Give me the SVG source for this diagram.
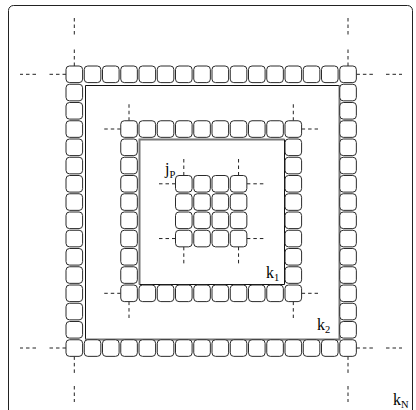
<svg xmlns="http://www.w3.org/2000/svg" xmlns:xlink="http://www.w3.org/1999/xlink" width="416" height="410" viewBox="0 0 416 410">
<style>
.frame{fill:#fff;stroke:#222;stroke-width:1}
.sq{fill:#fff;stroke:#2a2a2a;stroke-width:1}
.thin{stroke:#111;stroke-width:1;fill:none}
.thick{stroke:#777;stroke-width:2;fill:none}
.dash{stroke:#222;stroke-width:1;stroke-dasharray:3.5 3;fill:none}
.lbl{font-family:"Liberation Serif","Times New Roman",serif;font-size:16px;fill:#000}
.sub{font-size:10.5px}
</style>
<defs>
<rect id="sq" class="sq" width="16.6" height="16.6" rx="3.5" ry="3.5"/>
</defs>
<rect class="frame" x="8.5" y="5.5" width="404" height="420" rx="5" ry="5"/>
<g id="outer-lines">
<path class="thin" d="M85.5,339.5 V85.5 H339.5"/>
<path class="thick" d="M339.5,85.5 V339.5 H85.5"/>
</g>
<g id="middle-lines">
<path class="thick" d="M139.5,284.5 V139.5 H284.5"/>
<path class="thin" d="M284.5,139.5 V284.5 H139.5"/>
</g>
<g id="connectors">
<path class="dash" d="M74.3,66 V49.5 M74.3,34.5 V18 M66,74.3 H49.5 M36,74.3 H20"/>
<path class="dash" d="M348,66 V49.5 M348,34.5 V18 M356.4,74.3 H373 M386,74.3 H402"/>
<path class="dash" d="M66,348 H49.5 M36,348 H20 M74.3,356.4 V373 M74.3,386 V402"/>
<path class="dash" d="M356.4,348 H373 M386,348 H402 M348,356.4 V373 M348,386 V402"/>
<path class="dash" d="M129,120.75 V104 M120.75,129 H104"/>
<path class="dash" d="M293.3,120.75 V104 M301.6,129 H318"/>
<path class="dash" d="M120.75,293.3 H104 M129,301.6 V318"/>
<path class="dash" d="M301.6,293.3 H318 M293.3,301.6 V318"/>
<path class="dash" d="M183.8,175.5 V158.5 M175.5,183.8 H158.5"/>
<path class="dash" d="M238.55,175.5 V158.5 M246.85,183.8 H264"/>
<path class="dash" d="M175.5,238.55 H158.5 M183.8,246.85 V264"/>
<path class="dash" d="M246.85,238.55 H264 M238.55,246.85 V264"/>
</g>
<g id="ring-outer">
<use href="#sq" x="66" y="66"/><use href="#sq" x="84.25" y="66"/><use href="#sq" x="102.5" y="66"/><use href="#sq" x="120.75" y="66"/><use href="#sq" x="139" y="66"/><use href="#sq" x="157.25" y="66"/><use href="#sq" x="175.5" y="66"/><use href="#sq" x="193.75" y="66"/><use href="#sq" x="212" y="66"/><use href="#sq" x="230.25" y="66"/><use href="#sq" x="248.5" y="66"/><use href="#sq" x="266.75" y="66"/><use href="#sq" x="285" y="66"/><use href="#sq" x="303.25" y="66"/><use href="#sq" x="321.5" y="66"/><use href="#sq" x="339.75" y="66"/>
<use href="#sq" x="66" y="339.75"/><use href="#sq" x="84.25" y="339.75"/><use href="#sq" x="102.5" y="339.75"/><use href="#sq" x="120.75" y="339.75"/><use href="#sq" x="139" y="339.75"/><use href="#sq" x="157.25" y="339.75"/><use href="#sq" x="175.5" y="339.75"/><use href="#sq" x="193.75" y="339.75"/><use href="#sq" x="212" y="339.75"/><use href="#sq" x="230.25" y="339.75"/><use href="#sq" x="248.5" y="339.75"/><use href="#sq" x="266.75" y="339.75"/><use href="#sq" x="285" y="339.75"/><use href="#sq" x="303.25" y="339.75"/><use href="#sq" x="321.5" y="339.75"/><use href="#sq" x="339.75" y="339.75"/>
<use href="#sq" x="66" y="84.25"/><use href="#sq" x="66" y="102.5"/><use href="#sq" x="66" y="120.75"/><use href="#sq" x="66" y="139"/><use href="#sq" x="66" y="157.25"/><use href="#sq" x="66" y="175.5"/><use href="#sq" x="66" y="193.75"/><use href="#sq" x="66" y="212"/><use href="#sq" x="66" y="230.25"/><use href="#sq" x="66" y="248.5"/><use href="#sq" x="66" y="266.75"/><use href="#sq" x="66" y="285"/><use href="#sq" x="66" y="303.25"/><use href="#sq" x="66" y="321.5"/>
<use href="#sq" x="339.75" y="84.25"/><use href="#sq" x="339.75" y="102.5"/><use href="#sq" x="339.75" y="120.75"/><use href="#sq" x="339.75" y="139"/><use href="#sq" x="339.75" y="157.25"/><use href="#sq" x="339.75" y="175.5"/><use href="#sq" x="339.75" y="193.75"/><use href="#sq" x="339.75" y="212"/><use href="#sq" x="339.75" y="230.25"/><use href="#sq" x="339.75" y="248.5"/><use href="#sq" x="339.75" y="266.75"/><use href="#sq" x="339.75" y="285"/><use href="#sq" x="339.75" y="303.25"/><use href="#sq" x="339.75" y="321.5"/>
</g>
<g id="ring-middle">
<use href="#sq" x="120.75" y="120.75"/><use href="#sq" x="139" y="120.75"/><use href="#sq" x="157.25" y="120.75"/><use href="#sq" x="175.5" y="120.75"/><use href="#sq" x="193.75" y="120.75"/><use href="#sq" x="212" y="120.75"/><use href="#sq" x="230.25" y="120.75"/><use href="#sq" x="248.5" y="120.75"/><use href="#sq" x="266.75" y="120.75"/><use href="#sq" x="285" y="120.75"/>
<use href="#sq" x="120.75" y="285"/><use href="#sq" x="139" y="285"/><use href="#sq" x="157.25" y="285"/><use href="#sq" x="175.5" y="285"/><use href="#sq" x="193.75" y="285"/><use href="#sq" x="212" y="285"/><use href="#sq" x="230.25" y="285"/><use href="#sq" x="248.5" y="285"/><use href="#sq" x="266.75" y="285"/><use href="#sq" x="285" y="285"/>
<use href="#sq" x="120.75" y="139"/><use href="#sq" x="120.75" y="157.25"/><use href="#sq" x="120.75" y="175.5"/><use href="#sq" x="120.75" y="193.75"/><use href="#sq" x="120.75" y="212"/><use href="#sq" x="120.75" y="230.25"/><use href="#sq" x="120.75" y="248.5"/><use href="#sq" x="120.75" y="266.75"/>
<use href="#sq" x="285" y="139"/><use href="#sq" x="285" y="157.25"/><use href="#sq" x="285" y="175.5"/><use href="#sq" x="285" y="193.75"/><use href="#sq" x="285" y="212"/><use href="#sq" x="285" y="230.25"/><use href="#sq" x="285" y="248.5"/><use href="#sq" x="285" y="266.75"/>
</g>
<g id="grid-inner">
<use href="#sq" x="175.5" y="175.5"/><use href="#sq" x="193.75" y="175.5"/><use href="#sq" x="212" y="175.5"/><use href="#sq" x="230.25" y="175.5"/>
<use href="#sq" x="175.5" y="193.75"/><use href="#sq" x="193.75" y="193.75"/><use href="#sq" x="212" y="193.75"/><use href="#sq" x="230.25" y="193.75"/>
<use href="#sq" x="175.5" y="212"/><use href="#sq" x="193.75" y="212"/><use href="#sq" x="212" y="212"/><use href="#sq" x="230.25" y="212"/>
<use href="#sq" x="175.5" y="230.25"/><use href="#sq" x="193.75" y="230.25"/><use href="#sq" x="212" y="230.25"/><use href="#sq" x="230.25" y="230.25"/>
</g>
<g id="labels">
<text class="lbl" x="165" y="174">j<tspan class="sub" dy="3.5">P</tspan></text>
<text class="lbl" x="266" y="278">k<tspan class="sub" dy="3">1</tspan></text>
<text class="lbl" x="317" y="330">k<tspan class="sub" dy="3">2</tspan></text>
<text class="lbl" x="393" y="405">k<tspan class="sub" dy="3">N</tspan></text>
</g>
</svg>
